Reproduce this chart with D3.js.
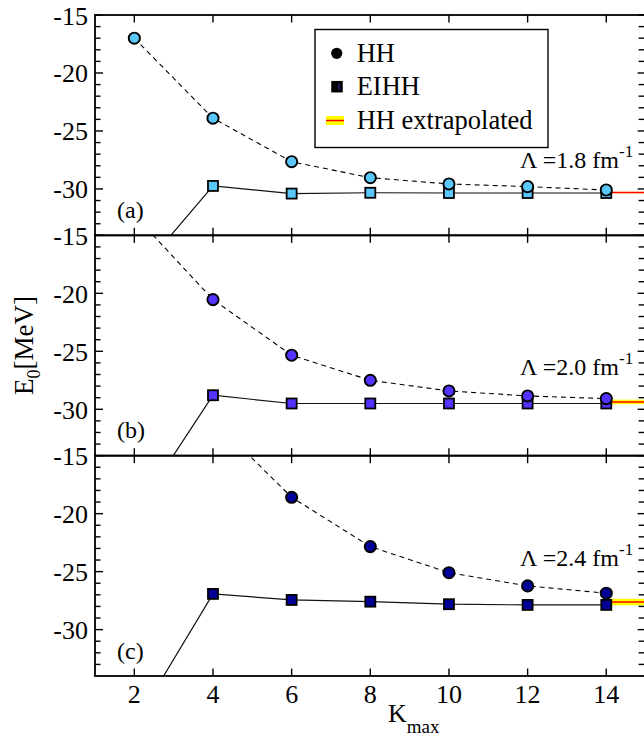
<!DOCTYPE html>
<html>
<head>
<meta charset="utf-8">
<script src="https://cdn.jsdelivr.net/npm/d3@7"></script>
<style>
  html, body { margin: 0; padding: 0; background: #fff; }
  svg { display: block; font-family: "Liberation Serif", "Times New Roman", serif; }
</style>
</head>
<body>
<svg id="chart" width="644" height="736"></svg>
<script>
// ---------------- data ----------------
const kValues = [2, 4, 6, 8, 10, 12, 14];
const hhA   = [-17.0, -23.9, -27.65, -29.03, -29.57, -29.8, -30.09];
const eihhA = [-37.7, -29.74, -30.4, -30.33, -30.35, -30.35, -30.35];
const hhB   = [-13.25, -20.54, -25.34, -27.5, -28.42, -28.85, -29.08];
const eihhB = [-39.1, -28.79, -29.5, -29.5, -29.5, -29.5, -29.5];
const hhC   = [null, -11.9, -18.59, -22.84, -25.09, -26.23, -26.86];
const eihhC = [-38.2, -26.92, -27.44, -27.59, -27.81, -27.87, -27.87];
const extrapCenter = [-30.3, -29.37, -27.62];
const extrapHalfWidth = [0.05, 0.2, 0.28];
const lambdaValues = ["1.8", "2.0", "2.4"];
const panelTags = ["(a)", "(b)", "(c)"];
const xTickValues = [2, 4, 6, 8, 10, 12, 14];
const yTickValues = [-15, -20, -25, -30];
const legendLabels = ["HH", "EIHH", "HH extrapolated"];

// ---------------- layout ----------------
const svg = d3.select("#chart");
const mLeft = 95, mRight = 645.6, mTop = 15, mBottom = 676;
const panelH = (mBottom - mTop) / 3;
const fills = ["#5ac8fa", "#5533ff", "#000099"];
const hhSets = [hhA, hhB, hhC];
const eihhSets = [eihhA, eihhB, eihhC];
const lambdaLabelY = [-28.19, -27.04, -24.51]; // data-unit anchor of annotation baseline
const tagY = [-32.5, -32.5, -32.5];

const x = d3.scaleLinear().domain([1, 15]).range([mLeft, mRight]);
const FONT = 26;

const defs = svg.append("defs");

for (let p = 0; p < 3; p++) {
  const y0 = mTop + p * panelH;
  const y = d3.scaleLinear().domain([-15, -34]).range([y0, y0 + panelH]);
  const g = svg.append("g");
  const clipId = "clip" + p;
  defs.append("clipPath").attr("id", clipId)
    .append("rect").attr("x", mLeft).attr("y", y0).attr("width", mRight - mLeft).attr("height", panelH);

  const plot = g.append("g").attr("clip-path", `url(#${clipId})`);

  // extrapolated band
  const xe0 = x(14), xe1 = x(15);
  plot.append("rect")
    .attr("x", xe0).attr("width", xe1 - xe0)
    .attr("y", y(extrapCenter[p] + extrapHalfWidth[p]))
    .attr("height", Math.max(1.5, y(extrapCenter[p] - extrapHalfWidth[p]) - y(extrapCenter[p] + extrapHalfWidth[p])))
    .attr("fill", "#ffff00");
  plot.append("line")
    .attr("x1", xe0).attr("x2", xe1)
    .attr("y1", y(extrapCenter[p])).attr("y2", y(extrapCenter[p]))
    .attr("stroke", "#ff0000").attr("stroke-width", 1.5);

  const hh = kValues.map((k, i) => ({k, v: hhSets[p][i]})).filter(d => d.v !== null);
  const ei = kValues.map((k, i) => ({k, v: eihhSets[p][i]})).filter(d => d.v !== null);
  const line = d3.line().x(d => x(d.k)).y(d => y(d.v));

  plot.append("path").datum(ei).attr("d", line)
    .attr("fill", "none").attr("stroke", "#111").attr("stroke-width", 1.2);
  plot.append("path").datum(hh).attr("d", line)
    .attr("fill", "none").attr("stroke", "#000").attr("stroke-width", 1.1)
    .attr("stroke-dasharray", "5,4");

  const inRange = d => d.v <= -15 && d.v >= -34;
  const sq = 10;
  plot.selectAll("rect.eihh").data(ei.filter(inRange)).join("rect")
    .attr("class", "eihh")
    .attr("x", d => x(d.k) - sq / 2).attr("y", d => y(d.v) - sq / 2)
    .attr("width", sq).attr("height", sq)
    .attr("fill", fills[p]).attr("stroke", "#000").attr("stroke-width", 1.8);
  plot.selectAll("circle.hh").data(hh.filter(inRange)).join("circle")
    .attr("class", "hh")
    .attr("cx", d => x(d.k)).attr("cy", d => y(d.v)).attr("r", 5.6)
    .attr("fill", fills[p]).attr("stroke", "#000").attr("stroke-width", 1.9);

  // frame
  g.append("rect").attr("x", mLeft).attr("y", y0).attr("width", mRight - mLeft).attr("height", panelH)
    .attr("fill", "none").attr("stroke", "#000").attr("stroke-width", 1.8);

  // y ticks (major + minor) both sides
  const minor = d3.range(-16, -34, -1).filter(v => v % 5 !== 0);
  const tickG = g.append("g").attr("stroke", "#000").attr("stroke-width", 1.4);
  yTickValues.forEach(v => {
    tickG.append("line").attr("x1", mLeft).attr("x2", mLeft + 8).attr("y1", y(v)).attr("y2", y(v));
    tickG.append("line").attr("x1", mRight).attr("x2", mRight - 8).attr("y1", y(v)).attr("y2", y(v));
  });
  minor.forEach(v => {
    tickG.append("line").attr("x1", mLeft).attr("x2", mLeft + 5.5).attr("y1", y(v)).attr("y2", y(v));
    tickG.append("line").attr("x1", mRight).attr("x2", mRight - 7).attr("y1", y(v)).attr("y2", y(v));
  });
  // x ticks top and bottom inward
  xTickValues.forEach(v => {
    tickG.append("line").attr("x1", x(v)).attr("x2", x(v)).attr("y1", y0).attr("y2", y0 + 7.5);
    tickG.append("line").attr("x1", x(v)).attr("x2", x(v)).attr("y1", y0 + panelH).attr("y2", y0 + panelH - 7.5);
  });

  // y tick labels
  g.selectAll("text.ytl").data(yTickValues).join("text")
    .attr("class", "ytl")
    .attr("x", 88).attr("y", d => y(d) + 9.5)
    .attr("text-anchor", "end").attr("font-size", FONT)
    .text(d => "-" + Math.abs(d));

  // panel tag
  g.append("text").attr("x", 117).attr("y", y(tagY[p]))
    .attr("font-size", 24).text(panelTags[p]);

  // lambda label
  const lt = g.append("text").attr("x", 520).attr("y", y(lambdaLabelY[p])).attr("font-size", 24);
  lt.append("tspan").text("Λ =" + lambdaValues[p] + " fm");
  lt.append("tspan").attr("font-size", 17).attr("dy", -11).text("-1");
}

// x tick labels
svg.selectAll("text.xtl").data(xTickValues).join("text")
  .attr("class", "xtl")
  .attr("x", d => x(d)).attr("y", 703)
  .attr("text-anchor", "middle").attr("font-size", FONT)
  .text(d => d);

// x axis title
const xt = svg.append("text").attr("x", 388).attr("y", 722).attr("font-size", FONT);
xt.append("tspan").text("K");
xt.append("tspan").attr("font-size", 19).attr("dy", 11).text("max");

// y axis title
const yt = svg.append("text")
  .attr("transform", `translate(33, ${(mTop + mBottom) / 2}) rotate(-90)`)
  .attr("text-anchor", "middle").attr("font-size", 27);
yt.append("tspan").text("E");
yt.append("tspan").attr("font-size", 18).attr("dy", 7).text("0");
yt.append("tspan").attr("dy", -7).text("[MeV]");

// legend
const lg = svg.append("g");
lg.append("rect").attr("x", 315).attr("y", 29.5).attr("width", 233).attr("height", 118)
  .attr("fill", "#fff").attr("stroke", "#000").attr("stroke-width", 1.4);
const rowY = [53.3, 86.7, 120.5];
lg.append("circle").attr("cx", 336.7).attr("cy", rowY[0]).attr("r", 5.6).attr("fill", "#000");
lg.append("rect").attr("x", 332).attr("y", rowY[1] - 5).attr("width", 10).attr("height", 10)
  .attr("fill", "#000").attr("stroke", "#000").attr("stroke-width", 1.5);
lg.append("line").attr("x1", 339).attr("x2", 339).attr("y1", rowY[1] - 3).attr("y2", rowY[1] + 3)
  .attr("stroke", "#3333cc").attr("stroke-width", 1);
lg.append("rect").attr("x", 326).attr("y", rowY[2] - 4.5).attr("width", 18).attr("height", 9).attr("fill", "#ffff00");
lg.append("line").attr("x1", 326).attr("x2", 344).attr("y1", rowY[2]).attr("y2", rowY[2])
  .attr("stroke", "#ff0000").attr("stroke-width", 1.5);
lg.selectAll("text.lt").data(legendLabels).join("text")
  .attr("class", "lt")
  .attr("x", 356.7).attr("y", (d, i) => rowY[i] + 8.5)
  .attr("font-size", 26.5).text(d => d);
</script>
</body>
</html>
